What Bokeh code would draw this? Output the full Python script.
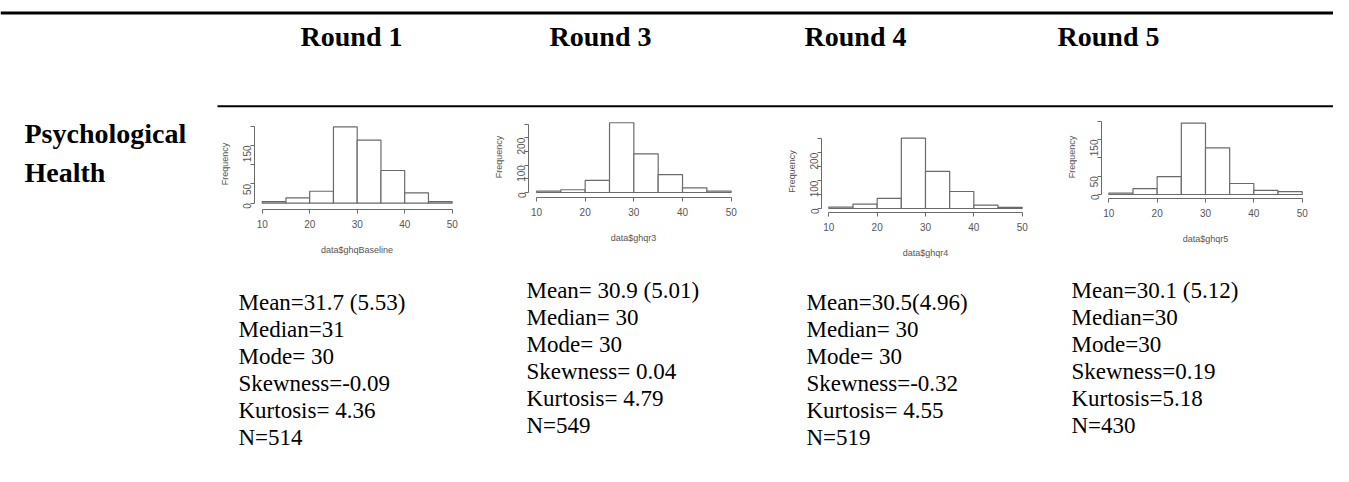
import math
from bokeh.plotting import figure
from bokeh.models import Range1d, FixedTicker, Spacer
from bokeh.layouts import column, row
from bokeh.embed import file_html
from bokeh.resources import INLINE
from bokeh.core.properties import value

# ---------------- data ----------------
row_label = ["Psychological", "Health"]
rounds = ["Round 1", "Round 3", "Round 4", "Round 5"]
bin_edges = [10, 15, 20, 25, 30, 35, 40, 45, 50]
freq_r1 = [4, 14, 31, 198, 164, 85, 27, 4]
freq_r3 = [5, 10, 44, 255, 141, 65, 17, 5]
freq_r4 = [5, 16, 36, 253, 133, 61, 12, 4]
freq_r5 = [4, 16, 49, 195, 127, 30, 11, 8]
x_titles = ["data$ghqBaseline", "data$ghqr3", "data$ghqr4", "data$ghqr5"]
x_ticks = [10, 20, 30, 40, 50]
y_ticks_r1 = [0, 50, 100, 150, 200]
y_ticks_r3 = [0, 50, 100, 150, 200, 250]
y_ticks_r4 = [0, 50, 100, 150, 200, 250]
y_ticks_r5 = [0, 50, 100, 150, 200]
y_labeled_r1 = [0, 50, 150]
y_labeled_r3 = [0, 100, 200]
y_labeled_r4 = [0, 100, 200]
y_labeled_r5 = [0, 50, 150]
stats_r1 = ["Mean=31.7 (5.53)", "Median=31", "Mode= 30", "Skewness=-0.09", "Kurtosis= 4.36", "N=514"]
stats_r3 = ["Mean= 30.9 (5.01)", "Median= 30", "Mode= 30", "Skewness= 0.04", "Kurtosis= 4.79", "N=549"]
stats_r4 = ["Mean=30.5(4.96)", "Median= 30", "Mode= 30", "Skewness=-0.32", "Kurtosis= 4.55", "N=519"]
stats_r5 = ["Mean=30.1 (5.12)", "Median=30", "Mode=30", "Skewness=0.19", "Kurtosis=5.18", "N=430"]

freqs = [freq_r1, freq_r3, freq_r4, freq_r5]
yticks = [y_ticks_r1, y_ticks_r3, y_ticks_r4, y_ticks_r5]
ylabeled = [y_labeled_r1, y_labeled_r3, y_labeled_r4, y_labeled_r5]
stats = [stats_r1, stats_r3, stats_r4, stats_r5]

SERIF = "Liberation Serif"
SANS = "Liberation Sans"
GREY = "#6a6a6a"
TXT = "#555555"
W = 1333


def text_fig(x0, x1, y0, y1, bt=0, bb=0):
    # pixel-coordinate canvas; y grows downward
    p = figure(width=x1 - x0, height=y1 - y0,
               x_range=Range1d(x0, x1), y_range=Range1d(y1 - bb, y0 + bt),
               x_axis_type=None, y_axis_type=None,
               toolbar_location=None, output_backend="svg",
               min_border=0, min_border_top=bt, min_border_bottom=bb,
               outline_line_color=None,
               background_fill_color="white", border_fill_color="white")
    return p


# ---------------- header band (y 0..108) ----------------
head = text_fig(0, W, 0, 108)
head.segment(x0=[0], y0=[12.5], x1=[W], y1=[12.5], line_color="black", line_width=3)
head.segment(x0=[217], y0=[105.7], x1=[W], y1=[105.7], line_color="black", line_width=2)
head_x = [351, 600, 855, 1108]
head.text(x=head_x, y=[36] * 4, text=rounds, text_font=value(SERIF),
          text_font_style="bold", text_font_size="28px", text_align="center",
          text_baseline="alphabetic", text_color="black")

# ---------------- middle band (y 108..265) ----------------
BY0, BY1 = 108, 265
BT, BB = 4, 52

left = text_fig(0, 205, BY0, BY1, BT, BB)
left.text(x=[24, 24], y=[133, 171.7], text=row_label, text_font=value(SERIF),
          text_font_style="bold", text_font_size="28px", text_align="left",
          text_baseline="alphabetic", text_color="black")

fig_x = [(205, 480), (480, 765), (765, 1050), (1050, W)]
geo = [
    # x10, x50, y0, y200, frame_t, frame_b
    (261.7, 451.7, 202.7, 125.7, 118, 209),
    (536.0, 730.7, 192.0, 137.3, 116, 197),
    (828.3, 1021.7, 208.0, 152.3, 130, 212),
    (1108.3, 1301.7, 194.0, 120.7, 115, 198),
]

cols = []
for i in range(4):
    fx0, fx1 = fig_x[i]
    x10, x50, y0, y200, ft, fb = geo[i]
    sx = (x50 - x10) / 40.0
    sy = (y0 - y200) / 200.0
    fl = int(round(x10 - 1.6 * sx))
    fr = int(round(x50 + 1.6 * sx))
    xs = 10 - (x10 - fl) / sx
    xe = 50 + (fr - x50) / sx
    ys = -(fb - y0) / sy
    ye = (y0 - ft) / sy
    fig_top = ft - BT
    fig_bot = fb + BB
    p = figure(width=fx1 - fx0, height=fig_bot - fig_top,
               x_range=Range1d(xs, xe), y_range=Range1d(ys, ye),
               toolbar_location=None, output_backend="svg",
               min_border_left=fl - fx0, min_border_right=fx1 - fr,
               min_border_top=BT, min_border_bottom=BB,
               outline_line_color=None,
               background_fill_color="white", border_fill_color="white")
    p.grid.visible = False
    p.quad(left=bin_edges[:-1], right=bin_edges[1:], bottom=0, top=freqs[i],
           fill_color="white", line_color=GREY, line_width=1.2)

    for ax in (p.xaxis[0], p.yaxis[0]):
        ax.axis_line_color = GREY
        ax.major_tick_line_color = GREY
        ax.minor_tick_line_color = None
        ax.major_tick_out = 4
        ax.major_tick_in = 0
        ax.major_label_text_font = SANS
        ax.major_label_text_font_size = "10px"
        ax.major_label_text_color = TXT
        ax.axis_label_text_font = SANS
        ax.axis_label_text_font_size = "9px"
        ax.axis_label_text_font_style = "normal"
        ax.axis_label_text_color = TXT

    xa = p.xaxis[0]
    xa.ticker = FixedTicker(ticks=x_ticks)
    xa.bounds = (x_ticks[0], x_ticks[-1])
    xa.major_label_standoff = 6
    xa.axis_label = x_titles[i]
    xa.axis_label_standoff = 14

    ya = p.yaxis[0]
    ya.ticker = FixedTicker(ticks=yticks[i])
    ya.bounds = (yticks[i][0], yticks[i][-1])
    ya.major_label_orientation = math.pi / 2
    ya.major_label_overrides = {t: "" for t in yticks[i] if t not in ylabeled[i]}
    ya.major_label_standoff = 3
    ya.axis_label = "Frequency"
    ya.axis_label_standoff = 7

    parts = []
    if fig_top - BY0 > 0:
        parts.append(Spacer(width=fx1 - fx0, height=fig_top - BY0))
    parts.append(p)
    if BY1 - fig_bot > 0:
        parts.append(Spacer(width=fx1 - fx0, height=BY1 - fig_bot))
    cols.append(column(*parts))

# ---------------- summary statistics (y 265..466) ----------------
st = text_fig(0, W, 265, 466)
stat_x = [238, 526, 806, 1071]
stat_y0 = [301.7, 290.0, 301.7, 290.0]
LINE = 27
for i in range(4):
    n = len(stats[i])
    st.text(x=[stat_x[i]] * n, y=[stat_y0[i] + k * LINE for k in range(n)], text=stats[i],
            text_font=value(SERIF), text_font_size="23px", text_align="left",
            text_baseline="alphabetic", text_color="black")

layout = column(head, row(left, *cols), st)
open("out.html", "w").write(file_html(layout, INLINE))
